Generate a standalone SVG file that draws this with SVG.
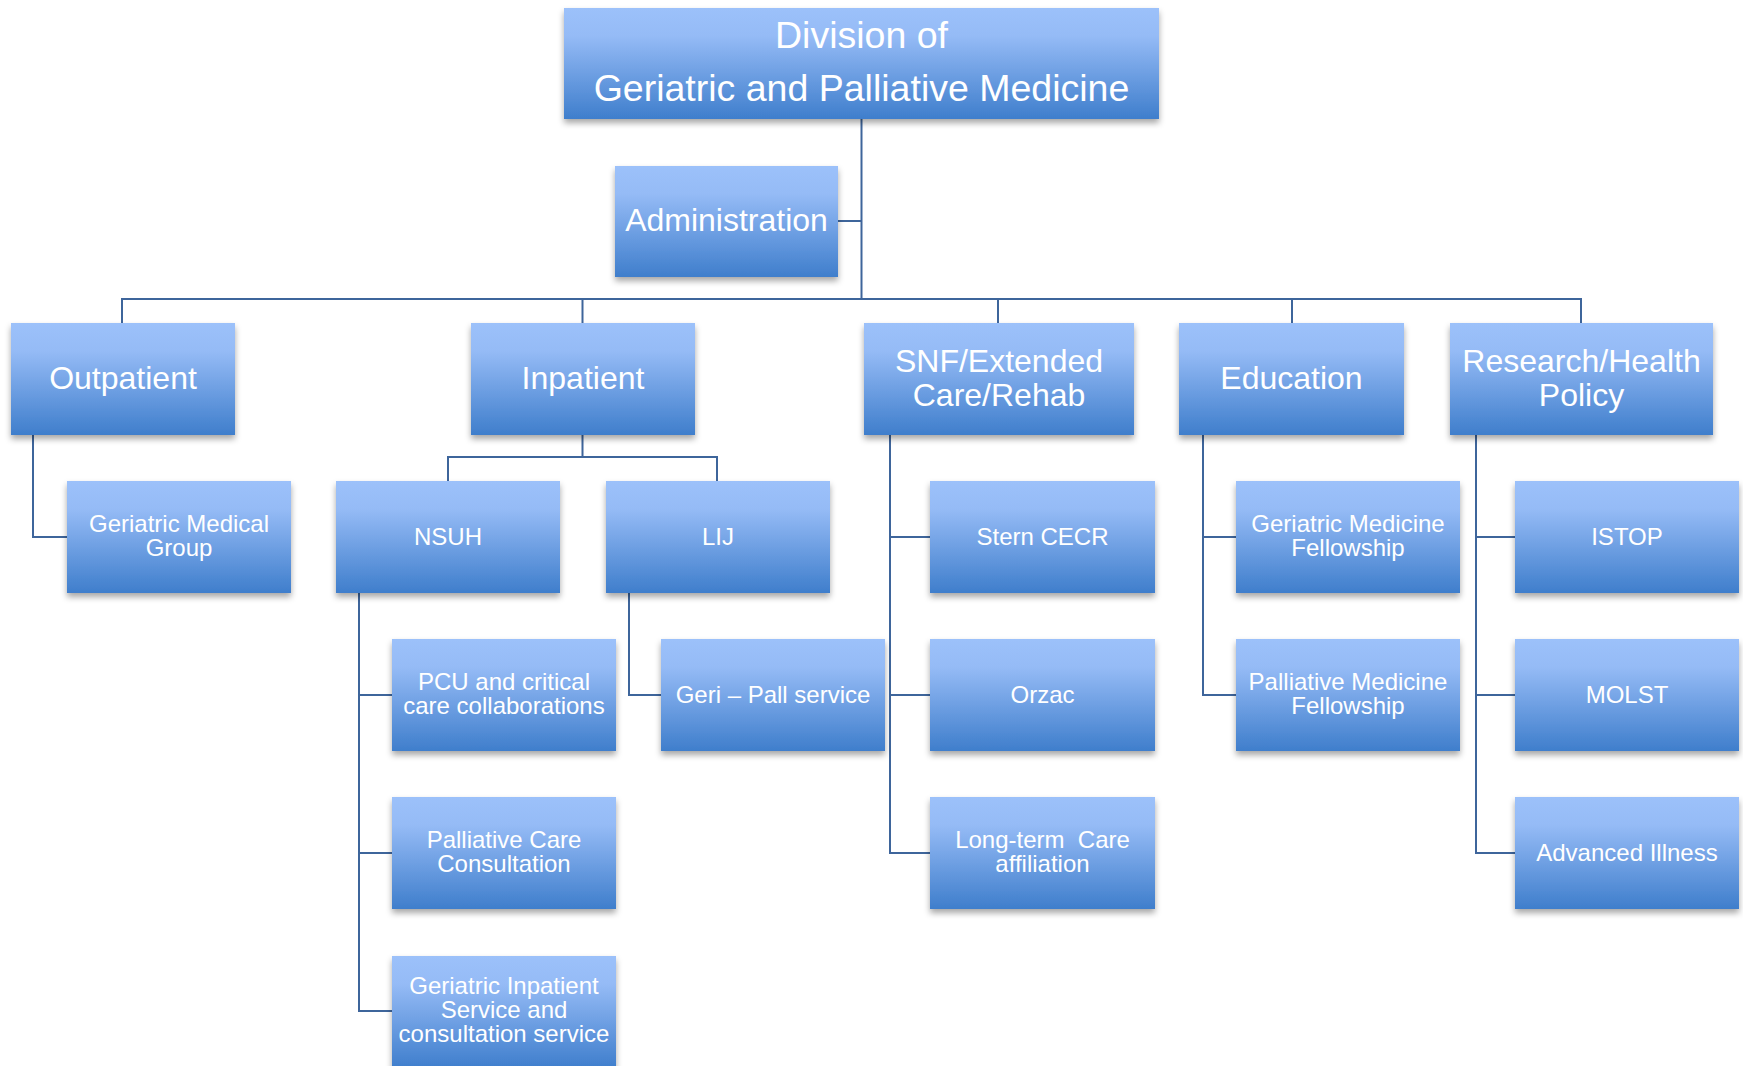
<svg xmlns="http://www.w3.org/2000/svg" width="1743" height="1066" viewBox="0 0 1743 1066">
<defs>
<linearGradient id="g" x1="0" y1="0" x2="0" y2="1">
<stop offset="0" stop-color="#9CC1FA"/>
<stop offset="0.25" stop-color="#95BBF6"/>
<stop offset="1" stop-color="#3F7ECC"/>
</linearGradient>
<filter id="sh" x="-10%" y="-10%" width="120%" height="130%">
<feDropShadow dx="0" dy="4" stdDeviation="3" flood-color="#000" flood-opacity="0.35"/>
</filter>
</defs>
<style>
.box{fill:url(#g);filter:url(#sh);}
text{font-family:"Liberation Sans",Arial,sans-serif;fill:#fff;text-anchor:middle;}
.t0{font-size:37.5px;}
.t1{font-size:32px;}
.t2{font-size:24px;}
.c{stroke:#3E659B;stroke-width:2;fill:none;}
</style>
<rect width="1743" height="1066" fill="#fff"/>
<g id="connectors">
<path class="c" d="M861.5 119V299"/>
<path class="c" d="M838 221H861.5"/>
<path class="c" d="M122 323V299H1581V323"/>
<path class="c" d="M582.5 299V323"/>
<path class="c" d="M998 299V323"/>
<path class="c" d="M1292 299V323"/>
<path class="c" d="M33 435V537H67"/>
<path class="c" d="M582.5 435V457M448 481V457H717V481"/>
<path class="c" d="M359 593V1011H392M359 695H392M359 853H392"/>
<path class="c" d="M629 593V695H661"/>
<path class="c" d="M890 435V853H930M890 537H930M890 695H930"/>
<path class="c" d="M1203 435V695H1236M1203 537H1236"/>
<path class="c" d="M1476 435V853H1515M1476 537H1515M1476 695H1515"/>
</g>
<g id="n-top"><rect class="box" x="564" y="8" width="595" height="111"/><text class="t0" x="861.5" y="48">Division of</text><text class="t0" x="861.5" y="101">Geriatric and Palliative Medicine</text></g>
<g id="n-admin"><rect class="box" x="615" y="166" width="223" height="111"/><text class="t1" x="726.5" y="231">Administration</text></g>
<g id="n-outpatient"><rect class="box" x="11" y="323" width="224" height="112"/><text class="t1" x="123" y="389">Outpatient</text></g>
<g id="n-inpatient"><rect class="box" x="471" y="323" width="224" height="112"/><text class="t1" x="583" y="389">Inpatient</text></g>
<g id="n-snf"><rect class="box" x="864" y="323" width="270" height="112"/><text class="t1" x="999" y="372">SNF/Extended</text><text class="t1" x="999" y="406">Care/Rehab</text></g>
<g id="n-education"><rect class="box" x="1179" y="323" width="225" height="112"/><text class="t1" x="1291.5" y="389">Education</text></g>
<g id="n-research"><rect class="box" x="1450" y="323" width="263" height="112"/><text class="t1" x="1581.5" y="372">Research/Health</text><text class="t1" x="1581.5" y="406">Policy</text></g>
<g id="n-gmg"><rect class="box" x="67" y="481" width="224" height="112"/><text class="t2" x="179" y="532">Geriatric Medical</text><text class="t2" x="179" y="556">Group</text></g>
<g id="n-nsuh"><rect class="box" x="336" y="481" width="224" height="112"/><text class="t2" x="448" y="545">NSUH</text></g>
<g id="n-lij"><rect class="box" x="606" y="481" width="224" height="112"/><text class="t2" x="718" y="545">LIJ</text></g>
<g id="n-stern"><rect class="box" x="930" y="481" width="225" height="112"/><text class="t2" x="1042.5" y="545">Stern CECR</text></g>
<g id="n-gmf"><rect class="box" x="1236" y="481" width="224" height="112"/><text class="t2" x="1348" y="532">Geriatric Medicine</text><text class="t2" x="1348" y="556">Fellowship</text></g>
<g id="n-istop"><rect class="box" x="1515" y="481" width="224" height="112"/><text class="t2" x="1627" y="545">ISTOP</text></g>
<g id="n-pcu"><rect class="box" x="392" y="639" width="224" height="112"/><text class="t2" x="504" y="690">PCU and critical</text><text class="t2" x="504" y="714">care collaborations</text></g>
<g id="n-geripall"><rect class="box" x="661" y="639" width="224" height="112"/><text class="t2" x="773" y="703">Geri – Pall service</text></g>
<g id="n-orzac"><rect class="box" x="930" y="639" width="225" height="112"/><text class="t2" x="1042.5" y="703">Orzac</text></g>
<g id="n-pmf"><rect class="box" x="1236" y="639" width="224" height="112"/><text class="t2" x="1348" y="690">Palliative Medicine</text><text class="t2" x="1348" y="714">Fellowship</text></g>
<g id="n-molst"><rect class="box" x="1515" y="639" width="224" height="112"/><text class="t2" x="1627" y="703">MOLST</text></g>
<g id="n-pcc"><rect class="box" x="392" y="797" width="224" height="112"/><text class="t2" x="504" y="848">Palliative Care</text><text class="t2" x="504" y="872">Consultation</text></g>
<g id="n-ltc"><rect class="box" x="930" y="797" width="225" height="112"/><text class="t2" x="1042.5" y="848" xml:space="preserve">Long-term  Care</text><text class="t2" x="1042.5" y="872">affiliation</text></g>
<g id="n-adv"><rect class="box" x="1515" y="797" width="224" height="112"/><text class="t2" x="1627" y="861">Advanced Illness</text></g>
<g id="n-gis"><rect class="box" x="392" y="956" width="224" height="112"/><text class="t2" x="504" y="994">Geriatric Inpatient</text><text class="t2" x="504" y="1018">Service and</text><text class="t2" x="504" y="1042">consultation service</text></g>
</svg>
